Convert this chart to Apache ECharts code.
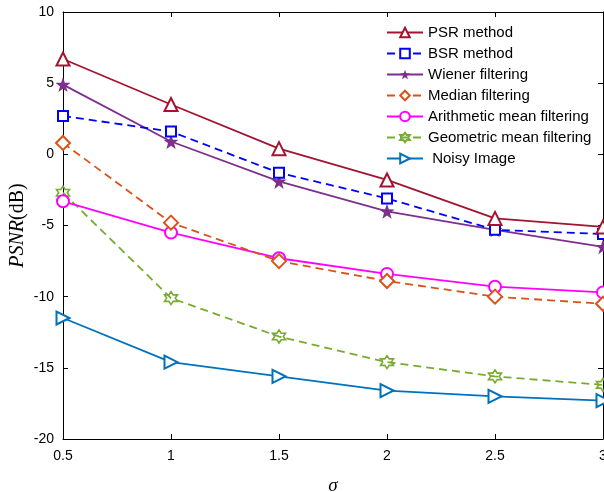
<!DOCTYPE html>
<html>
<head>
<meta charset="utf-8">
<script src="https://cdn.jsdelivr.net/npm/echarts@6/dist/echarts.min.js"></script>
<style>
  html, body { margin: 0; padding: 0; background: #fff; }
  #chart { width: 604px; height: 492px; }
</style>
</head>
<body>
<div id="chart"></div>
<script>
const sigma = [0.5, 1, 1.5, 2, 2.5, 3]
const psr = [6.7, 3.5, 0.4, -1.8, -4.5, -5.1]
const bsr = [2.7, 1.6, -1.3, -3.1, -5.3, -5.6]
const wiener = [4.9, 0.9, -1.9, -4.0, -5.3, -6.5]
const median = [0.8, -4.8, -7.5, -8.9, -10.0, -10.5]
const arith = [-3.3, -5.5, -7.3, -8.4, -9.3, -9.7]
const geo = [-2.7, -10.1, -12.8, -14.6, -15.6, -16.2]
const noisy = [-11.5, -14.6, -15.6, -16.6, -17.0, -17.3]
const xTicks = ['0.5', '1', '1.5', '2', '2.5', '3']

const starPath = 'path://M0,-10 L2.35,-3.24 L9.51,-3.09 L3.8,1.24 L5.88,8.09 L0,4 L-5.88,8.09 L-3.8,1.24 L-9.51,-3.09 L-2.35,-3.24 Z'
const hexPath = 'path://M0,-10 L2.89,-5 L8.66,-5 L5.77,0 L8.66,5 L2.89,5 L0,10 L-2.89,5 L-8.66,5 L-5.77,0 L-8.66,-5 L-2.89,-5 Z'

const pairs = ys => sigma.map((x, i) => [x, ys[i]])

const makeSeries = (name, ys, color, symbol, opts = {}) => ({
  name,
  type: 'line',
  data: pairs(ys),
  symbol,
  symbolSize: opts.size || 12,
  symbolRotate: opts.rotate || 0,
  lineStyle: { color, width: 1.8, type: opts.dashed ? [8, 5] : 'solid' },
  itemStyle: opts.itemStyle || { color, borderWidth: 1.6 },
  emphasis: { disabled: true },
  z: opts.z || 2
})

const chart = echarts.init(document.getElementById('chart'))

const axisCommon = {
  axisLine: { onZero: false, lineStyle: { color: '#000', width: 1 } },
  axisTick: { inside: true, length: 5, lineStyle: { color: '#000' } },
  splitLine: { show: false }
}

chart.setOption({
  backgroundColor: '#fff',
  animation: false,
  grid: { left: 63, right: 1, top: 12, bottom: 53, outerBoundsMode: 'none', containLabel: false },
  legend: {
    orient: 'vertical',
    left: 381,
    top: 20,
    itemWidth: 36,
    itemHeight: 12,
    itemGap: 6,
    textStyle: { fontFamily: 'Liberation Sans, Arial', fontSize: 15, color: '#000', lineHeight: 15 },
    data: ['PSR method', 'BSR method', 'Wiener filtering', 'Median filtering',
      'Arithmetic mean filtering', 'Geometric mean filtering', ' Noisy Image']
  },
  xAxis: [
    {
      type: 'value', min: 0.5, max: 3, interval: 0.5,
      ...axisCommon,
      axisLabel: {
        color: '#000', fontSize: 14, fontFamily: 'Liberation Sans, Arial', margin: 10,
        formatter: v => xTicks[Math.round((v - 0.5) / 0.5)]
      },
      name: 'σ',
      nameLocation: 'middle',
      nameGap: 37,
      nameTextStyle: { fontFamily: 'Liberation Serif, Times New Roman', fontStyle: 'italic', fontSize: 19, color: '#000' }
    },
    {
      type: 'value', min: 0.5, max: 3, interval: 0.5, position: 'top',
      ...axisCommon,
      axisLabel: { show: false }
    }
  ],
  yAxis: [
    {
      type: 'value', min: -20, max: 10, interval: 5,
      ...axisCommon,
      axisLabel: { color: '#000', fontSize: 14, fontFamily: 'Liberation Sans, Arial', margin: 9 },
      name: '{i|PSNR}{n|(dB)}',
      nameLocation: 'middle',
      nameGap: 35,
      nameMoveOverlap: false,
      nameTextStyle: {
        rich: {
          i: { fontFamily: 'Liberation Serif, Times New Roman', fontStyle: 'italic', fontSize: 20, color: '#000' },
          n: { fontFamily: 'Liberation Serif, Times New Roman', fontSize: 20, color: '#000' }
        }
      }
    },
    {
      type: 'value', min: -20, max: 10, interval: 5, position: 'right',
      ...axisCommon,
      axisLabel: { show: false }
    }
  ],
  series: [
    makeSeries('PSR method', psr, '#A2142F', 'emptyTriangle', { size: 13, z: 8 }),
    makeSeries('BSR method', bsr, '#0000FF', 'emptyRect', { dashed: true, size: 10, z: 7 }),
    makeSeries('Wiener filtering', wiener, '#7E2F8E', starPath, { size: 15, z: 6, itemStyle: { color: '#7E2F8E', borderWidth: 0 } }),
    makeSeries('Median filtering', median, '#D95319', 'emptyDiamond', { dashed: true, size: 14, z: 5 }),
    makeSeries('Arithmetic mean filtering', arith, '#FF00FF', 'emptyCircle', { size: 12, z: 4 }),
    makeSeries('Geometric mean filtering', geo, '#77AC30', hexPath, { dashed: true, size: 13, z: 3, itemStyle: { color: 'none', borderColor: '#77AC30', borderWidth: 1.6 } }),
    makeSeries(' Noisy Image', noisy, '#0072BD', 'emptyTriangle', { size: 13, rotate: -90, z: 2 })
  ]
})
</script>
</body>
</html>
